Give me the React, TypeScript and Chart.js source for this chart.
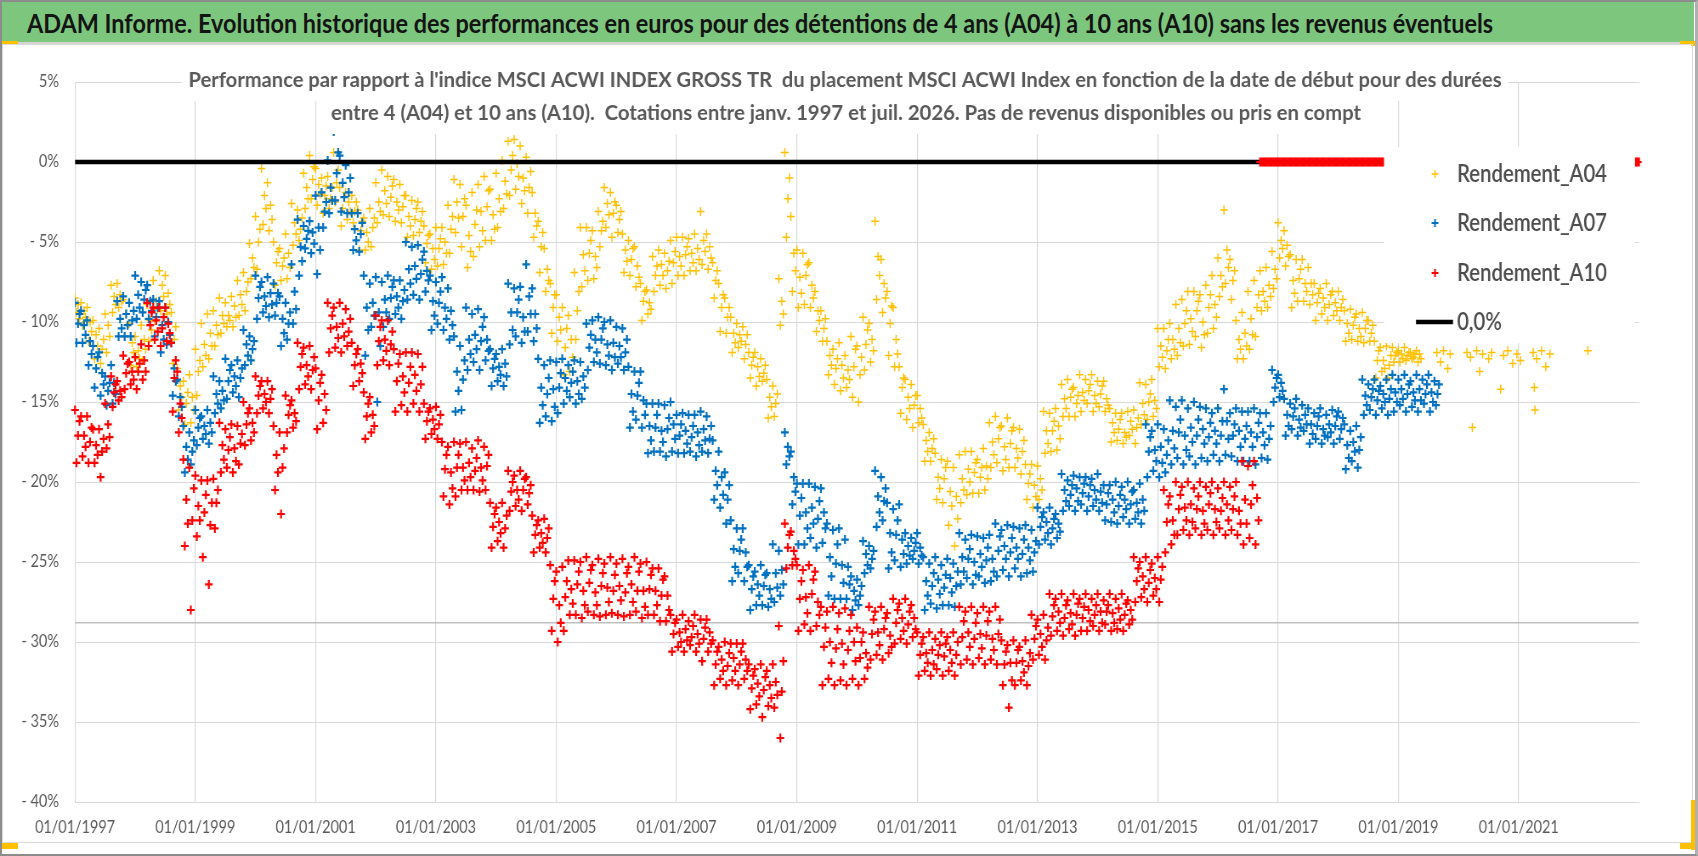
import { useEffect, useRef } from "react";
import { Chart, registerables } from "chart.js";

Chart.register(...registerables);

// ---- data (percent vs index) ----
// every row = four readings of the band inside one STEP-long slice, rows start 01/01/1997
const START_YEAR = 1997;
const STEP = 0.1;
const X_SPAN = 26; // years shown on the axis

const A04_ROWS: number[][] = [
  // 1997
  [-8.5,-9.4,-8.9,-9.8],[-8.8,-10.2,-9.3,-9.7],[-9.1,-11.2,-10.0,-10.6],[-9.9,-12.3,-10.8,-11.5],[-10.4,-12.6,-11.7,-11.1],
  [-9.5,-11.9,-10.2,-10.9],[-7.7,-9.4,-8.4,-8.9],[-7.6,-9.1,-8.3,-8.7],[-8.6,-10.9,-9.5,-10.2],[-10.1,-12.7,-11.3,-11.9],
  // 1998
  [-10.9,-12.8,-11.8,-12.3],[-10.2,-12.4,-11.1,-11.7],[-8.9,-11.2,-9.9,-10.5],[-7.4,-9.9,-8.7,-9.2],[-6.8,-9.3,-7.7,-8.4],
  [-7.1,-9.5,-8.2,-8.9],[-9.4,-12.6,-11.1,-10.3],[-12.9,-15.5,-14.0,-14.7],[-13.7,-16.4,-15.1,-14.4],[-13.3,-16.3,-14.7,-15.5],
  // 1999
  [-11.7,-14.6,-13.1,-12.4],[-10.1,-12.8,-11.4,-12.1],[-9.5,-12.3,-10.7,-11.5],[-9.3,-11.5,-10.2,-10.8],[-8.5,-10.7,-9.6,-10.1],
  [-8.8,-10.3,-9.6,-9.9],[-8.4,-10.3,-9.0,-9.7],[-7.4,-9.6,-8.3,-8.9],[-6.9,-9.3,-8.1,-7.5],[-5.1,-7.3,-6.0,-6.6],
  // 2000
  [-3.4,-6.7,-5.0,-4.2],[-0.4,-3.9,-2.1,-2.9],[-1.3,-4.3,-2.7,-3.6],[-5.0,-7.7,-6.3,-5.6],[-5.4,-7.4,-6.5,-6.0],
  [-4.5,-7.3,-5.7,-6.6],[-2.6,-5.2,-3.8,-4.5],[-3.0,-4.9,-4.2,-3.5],[-0.7,-2.9,-1.6,-2.3],[0.4,-2.3,-1.1,-0.3],
  // 2001
  [-0.4,-2.7,-1.4,-2.0],[-1.0,-3.2,-2.1,-1.5],[-0.9,-2.9,-2.3,-1.6],[0.6,-2.5,-1.3,-0.5],[-1.6,-4.0,-2.9,-2.2],
  [-1.9,-3.6,-2.5,-3.1],[-2.1,-3.8,-3.1,-2.5],[-3.0,-5.5,-4.3,-3.7],[-3.5,-5.5,-4.4,-5.0],[-2.9,-5.3,-4.1,-3.5],
  // 2002
  [-1.3,-3.8,-2.5,-3.1],[-0.5,-3.3,-1.8,-2.6],[-0.9,-3.4,-2.2,-1.5],[-1.1,-3.7,-2.5,-3.0],[-1.4,-3.8,-2.8,-2.1],
  [-2.1,-4.7,-3.4,-4.0],[-2.4,-4.6,-3.6,-2.9],[-2.5,-4.4,-3.7,-3.1],[-4.0,-6.3,-5.1,-4.6],[-4.5,-6.7,-5.4,-6.1],
  // 2003
  [-4.1,-6.5,-5.4,-4.8],[-4.1,-6.4,-5.0,-5.7],[-2.7,-5.7,-4.2,-3.4],[-1.1,-4.4,-2.5,-3.5],[-1.4,-5.3,-3.4,-2.3],
  [-2.7,-6.6,-4.6,-5.6],[-1.9,-5.9,-3.9,-3.0],[-1.4,-5.3,-3.1,-4.3],[-0.9,-4.9,-2.8,-1.8],[-1.7,-4.9,-3.3,-4.2],
  // 2004
  [-0.7,-4.1,-2.3,-3.1],[0.1,-2.9,-1.2,-2.0],[1.3,-2.1,-0.5,0.4],[1.4,-1.7,-0.1,-0.9],[1.0,-2.6,-1.0,-1.8],
  [0.3,-3.2,-1.6,-0.6],[-1.9,-4.7,-3.2,-4.0],[-3.7,-6.9,-5.3,-4.4],[-5.4,-8.1,-6.7,-7.4],[-7.6,-10.7,-9.1,-8.3],
  // 2005
  [-8.3,-11.2,-9.7,-10.5],[-9.1,-13.3,-11.6,-10.4],[-9.6,-13.1,-11.1,-12.2],[-6.9,-11.1,-9.3,-8.1],[-4.1,-7.8,-5.8,-6.8],
  [-4.1,-7.4,-5.7,-4.9],[-4.3,-7.3,-5.9,-6.6],[-3.1,-5.3,-4.3,-3.7],[-1.6,-4.1,-2.6,-3.3],[-1.9,-4.7,-3.2,-2.5],
  // 2006
  [-2.7,-4.4,-3.6,-3.1],[-4.5,-6.9,-5.5,-6.2],[-4.9,-7.1,-6.1,-5.4],[-5.3,-7.8,-6.5,-7.2],[-7.6,-9.9,-8.7,-8.1],
  [-8.0,-9.5,-8.8,-9.2],[-5.9,-8.1,-7.1,-6.5],[-5.5,-7.7,-6.4,-7.1],[-5.7,-7.9,-6.8,-6.2],[-4.9,-7.6,-6.3,-5.6],
  // 2007
  [-4.7,-7.1,-5.9,-6.5],[-4.7,-7.1,-5.8,-5.3],[-4.8,-6.8,-5.7,-6.3],[-4.5,-6.8,-5.4,-6.1],[-3.1,-6.4,-4.9,-5.6],
  [-4.5,-6.7,-5.3,-6.0],[-6.3,-8.5,-7.4,-6.8],[-7.6,-10.6,-9.1,-8.3],[-8.5,-10.7,-9.7,-9.1],[-9.7,-11.9,-10.7,-11.3],
  // 2008
  [-10.1,-11.6,-10.8,-11.2],[-10.3,-12.3,-11.4,-10.8],[-11.9,-13.5,-12.7,-12.2],[-11.9,-14.0,-12.8,-13.4],[-12.3,-13.7,-13.2,-12.7],
  [-13.6,-16.0,-14.7,-15.3],[-14.0,-15.9,-15.1,-14.5],[-7.3,-10.2,-8.7,-9.5],[0.6,-4.7,-2.3,-1.0],[-3.4,-8.1,-5.7,-6.8],
  // 2009
  [-5.5,-9.1,-7.2,-8.2],[-5.7,-8.9,-7.1,-6.4],[-6.3,-9.1,-7.7,-8.5],[-8.1,-10.6,-9.3,-9.9],[-9.3,-11.2,-10.4,-9.8],
  [-11.2,-13.3,-12.1,-12.7],[-11.7,-13.9,-12.9,-12.3],[-11.3,-14.3,-12.7,-13.5],[-12.1,-14.1,-13.0,-13.6],[-10.9,-14.7,-12.8,-11.7],
  // 2010
  [-11.5,-15.0,-13.3,-12.2],[-9.7,-13.0,-11.4,-10.5],[-10.1,-12.5,-11.1,-11.8],[-3.7,-8.6,-5.9,-7.1],[-6.1,-9.4,-7.6,-8.5],
  [-8.1,-12.1,-10.1,-9.0],[-9.1,-12.8,-11.1,-12.0],[-12.8,-15.7,-14.1,-13.5],[-13.6,-16.1,-14.7,-15.4],[-13.9,-16.6,-15.2,-14.6],
  // 2011
  [-14.6,-16.3,-15.4,-16.0],[-16.4,-18.7,-17.4,-18.1],[-16.9,-18.7,-17.9,-17.3],[-18.2,-21.1,-19.7,-20.4],[-18.6,-21.3,-19.8,-19.1],
  [-18.7,-22.7,-20.6,-21.5],[-19.1,-24.0,-20.9,-22.3],[-18.3,-21.3,-19.8,-20.5],[-18.1,-20.8,-19.2,-20.0],[-18.1,-20.7,-19.4,-18.8],
  // 2012
  [-18.6,-20.7,-19.7,-19.1],[-17.9,-20.5,-19.0,-19.8],[-16.3,-19.1,-17.5,-18.3],[-15.9,-18.8,-17.3,-16.6],[-16.5,-19.3,-17.8,-18.6],
  [-16.0,-19.1,-17.6,-16.8],[-16.6,-19.1,-17.9,-18.5],[-16.7,-19.5,-18.1,-17.4],[-18.9,-21.1,-20.1,-19.5],[-18.9,-21.6,-20.2,-20.9],
  // 2013
  [-19.0,-21.1,-19.8,-20.5],[-15.6,-18.2,-16.8,-17.6],[-15.7,-18.1,-16.8,-16.2],[-15.4,-18.0,-16.5,-17.3],[-13.9,-15.9,-14.8,-15.4],
  [-13.6,-15.9,-14.7,-14.2],[-14.1,-15.9,-15.1,-14.6],[-13.3,-15.6,-14.4,-14.9],[-13.6,-15.1,-14.3,-13.9],[-13.3,-15.6,-14.6,-15.1],
  // 2014
  [-13.7,-15.3,-14.5,-14.0],[-13.7,-15.6,-14.8,-15.2],[-15.4,-17.5,-16.3,-16.9],[-15.7,-17.4,-16.7,-16.1],[-15.7,-17.6,-16.9,-17.2],
  [-15.6,-17.1,-16.2,-16.7],[-15.5,-17.6,-16.6,-16.0],[-13.8,-16.4,-15.1,-15.8],[-13.9,-16.1,-15.0,-14.5],[-13.6,-15.9,-14.9,-15.4],
  // 2015
  [-10.4,-12.8,-11.5,-12.2],[-10.4,-12.9,-11.8,-11.1],[-10.1,-12.3,-11.1,-11.7],[-8.9,-12.1,-10.4,-11.3],[-8.6,-11.5,-10.1,-9.3],
  [-8.1,-11.4,-9.8,-10.6],[-8.1,-10.9,-9.3,-8.7],[-8.3,-11.6,-10.0,-10.8],[-7.7,-10.7,-9.1,-8.3],[-7.1,-10.4,-8.9,-9.7],
  // 2016
  [-6.0,-8.4,-7.1,-7.8],[-3.0,-7.6,-5.5,-6.6],[-6.1,-8.6,-7.4,-6.8],[-9.9,-12.3,-11.1,-11.7],[-9.4,-12.3,-10.7,-11.5],
  [-8.1,-11.7,-9.8,-10.8],[-7.4,-10.9,-9.1,-8.3],[-6.8,-9.3,-8.1,-8.7],[-6.6,-9.1,-7.7,-8.4],[-5.6,-7.9,-6.7,-7.3],
  // 2017
  [-3.8,-6.0,-4.9,-5.4],[-4.3,-6.5,-5.2,-5.9],[-5.8,-9.1,-7.4,-8.2],[-6.1,-8.7,-7.3,-6.7],[-6.1,-8.7,-7.6,-8.1],
  [-6.6,-8.9,-7.6,-8.3],[-7.6,-9.9,-8.8,-8.2],[-7.9,-9.5,-8.5,-9.1],[-7.6,-9.9,-8.9,-8.3],[-8.1,-9.6,-8.8,-9.3],
  // 2018
  [-8.1,-9.9,-9.1,-8.6],[-9.3,-11.2,-10.1,-10.7],[-9.2,-11.1,-10.2,-9.7],[-9.5,-11.2,-10.4,-10.9],[-9.4,-11.3,-10.4,-9.9],
  [-9.9,-11.2,-10.7,-10.2],[-11.2,-13.5,-12.4,-11.8],[-11.6,-13.1,-12.4,-12.9],[-11.5,-13.5,-12.7,-12.1],[-11.6,-12.5,-12.1,-11.9],
  // 2019
  [-11.8,-12.5,-12.0,-12.3],[-11.6,-12.4,-12.1,-11.9],[-11.9,-12.3,-12.2,-12.0],[-11.8,-12.5,-12.0,-12.3],
];

// scattered A04 points after the dense part (year, value)
const A04_TAIL_YEARS = [2019.64, 2019.7, 2019.75, 2019.82, 2019.86, 2020.14, 2020.2, 2020.23, 2020.3, 2020.35, 2020.4, 2020.5, 2020.55, 2020.7, 2020.75, 2020.82, 2020.9, 2020.97, 2021.03, 2021.24, 2021.26, 2021.27, 2021.3, 2021.38, 2021.45, 2021.52, 2022.15];
const A04_TAIL_VALUES = [-11.9, -12.5, -11.8, -12.9, -12.0, -11.9, -12.2, -16.6, -11.8, -13.1, -12.0, -12.3, -11.9, -14.2, -12.1, -11.8, -12.6, -12.0, -12.4, -11.9, -14.1, -15.5, -12.3, -11.8, -12.8, -12.0, -11.8];

const A07_ROWS: number[][] = [
  // 1997
  [-8.8,-11.3,-10.1,-9.5],[-9.3,-11.3,-10.2,-10.8],[-9.9,-12.7,-11.2,-12.0],[-11.5,-14.1,-12.9,-12.2],[-11.9,-14.6,-13.2,-13.9],
  [-13.4,-15.2,-14.3,-13.8],[-12.7,-15.1,-13.8,-14.5],[-8.7,-10.9,-9.8,-10.4],[-8.4,-10.9,-9.5,-10.2],[-8.8,-10.9,-9.9,-9.3],
  // 1998
  [-7.1,-9.8,-8.3,-9.1],[-7.5,-9.4,-8.6,-8.0],[-7.7,-9.8,-8.7,-9.3],[-8.6,-10.9,-9.7,-9.1],[-8.7,-11.9,-10.2,-11.1],
  [-9.1,-11.4,-10.0,-10.8],[-11.3,-14.6,-12.9,-13.7],[-13.6,-15.9,-14.7,-15.3],[-16.5,-19.4,-17.8,-18.6],[-16.9,-18.9,-18.1,-17.4],
  // 1999
  [-15.5,-17.7,-16.6,-16.0],[-15.9,-17.3,-16.5,-17.0],[-15.5,-17.6,-16.3,-16.9],[-13.4,-15.7,-14.5,-15.1],[-13.7,-15.4,-14.3,-14.9],
  [-12.3,-14.8,-13.7,-13.0],[-12.7,-14.4,-13.4,-14.0],[-12.4,-14.7,-13.5,-12.9],[-10.5,-12.7,-11.4,-12.1],[-10.9,-12.4,-11.7,-11.2],
  // 2000
  [-7.1,-9.8,-8.5,-7.8],[-7.5,-9.4,-8.4,-9.0],[-7.2,-9.7,-8.2,-8.9],[-7.6,-9.6,-8.8,-8.2],[-8.4,-11.5,-9.8,-10.7],
  [-8.8,-11.1,-10.1,-9.4],[-6.4,-10.1,-8.1,-9.2],[-3.6,-7.1,-5.3,-6.2],[-4.0,-5.4,-4.8,-4.3],[-3.7,-5.7,-4.4,-5.1],
  // 2001
  [-2.1,-7.0,-4.1,-5.5],[-1.9,-4.1,-3.1,-2.5],[0.1,-3.2,-1.6,-2.4],[1.9,-2.4,-0.7,0.6],[0.4,-3.1,-1.3,-2.2],
  [-0.2,-3.2,-1.9,-1.0],[-3.2,-5.5,-4.2,-4.9],[-3.2,-5.6,-4.5,-3.8],[-7.1,-12.1,-9.1,-10.5],[-7.6,-10.3,-8.8,-9.6],
  // 2002
  [-7.2,-15.0,-9.4,-11.5],[-7.5,-10.3,-8.6,-9.4],[-7.1,-9.8,-8.5,-7.8],[-7.4,-9.5,-8.4,-9.1],[-7.4,-9.8,-8.7,-8.0],
  [-5.0,-8.6,-6.7,-7.6],[-5.3,-8.3,-6.5,-7.3],[-5.2,-8.6,-7.0,-6.1],[-5.6,-8.1,-6.8,-7.4],[-7.1,-10.5,-8.7,-9.6],
  // 2003
  [-7.5,-10.1,-8.8,-8.1],[-7.2,-10.5,-9.1,-9.8],[-7.9,-11.1,-9.3,-10.2],[-10.9,-15.6,-13.1,-14.3],[-11.5,-15.5,-13.6,-12.4],
  [-9.1,-13.0,-11.1,-12.0],[-9.5,-12.5,-10.8,-11.7],[-9.2,-13.0,-11.2,-10.3],[-9.7,-12.4,-11.1,-11.8],[-11.7,-14.0,-12.9,-12.3],
  // 2004
  [-12.0,-13.7,-12.8,-13.3],[-11.7,-14.0,-12.6,-13.4],[-7.6,-11.4,-9.4,-10.5],[-7.9,-10.9,-9.4,-8.6],[-7.8,-11.3,-9.7,-10.6],
  [-6.4,-10.6,-8.4,-9.5],[-7.9,-11.2,-9.5,-10.4],[-12.3,-16.3,-14.1,-15.2],[-12.7,-15.9,-14.5,-13.5],[-12.4,-16.2,-14.2,-15.3],
  // 2005
  [-12.5,-15.7,-14.1,-13.2],[-12.3,-15.1,-13.5,-14.3],[-12.7,-14.7,-13.8,-13.1],[-12.4,-15.1,-13.7,-14.5],[-12.5,-14.8,-13.4,-14.1],
  [-10.1,-13.0,-11.6,-10.8],[-9.9,-12.5,-11.1,-11.9],[-9.7,-12.6,-11.1,-10.4],[-10.0,-12.7,-11.4,-12.1],[-9.9,-13.0,-11.3,-12.2],
  // 2006
  [-10.3,-12.6,-11.5,-12.2],[-10.4,-13.0,-11.9,-11.1],[-12.8,-16.6,-14.5,-15.6],[-13.1,-16.1,-14.6,-13.8],[-13.1,-16.6,-14.9,-15.8],
  [-15.1,-18.2,-16.5,-17.4],[-15.1,-18.1,-16.6,-15.8],[-15.1,-18.1,-16.8,-17.5],[-15.2,-18.4,-16.7,-16.0],[-15.0,-18.1,-16.4,-17.3],
  // 2007
  [-15.8,-18.2,-17.1,-16.4],[-15.7,-18.2,-16.8,-17.6],[-15.8,-18.1,-17.2,-16.5],[-15.8,-18.4,-16.9,-17.7],[-15.6,-18.1,-16.7,-17.4],
  [-15.9,-18.2,-17.3,-16.5],[-17.4,-21.1,-19.3,-20.2],[-18.1,-21.6,-19.7,-20.8],[-19.4,-22.6,-21.1,-20.2],[-22.4,-26.2,-24.2,-25.3],
  // 2008
  [-22.9,-25.7,-24.3,-23.6],[-22.9,-26.2,-24.4,-25.3],[-25.2,-28.0,-26.7,-25.9],[-25.6,-27.7,-26.4,-27.1],[-25.2,-27.7,-26.5,-25.8],
  [-25.7,-27.8,-26.7,-27.3],[-23.9,-27.5,-25.7,-26.6],[-24.3,-27.1,-25.5,-26.4],[-16.9,-18.9,-17.8,-18.4],[-18.1,-21.4,-19.7,-20.6],
  // 2009
  [-20.1,-23.9,-22.1,-21.0],[-20.1,-23.9,-21.9,-22.9],[-20.1,-23.5,-21.6,-22.6],[-20.3,-24.1,-22.3,-21.2],[-20.4,-23.8,-21.9,-22.9],
  [-22.6,-27.1,-24.7,-25.9],[-23.0,-27.3,-25.1,-23.9],[-22.9,-27.3,-25.2,-26.3],[-23.6,-27.3,-25.3,-26.4],[-25.9,-28.0,-26.8,-27.4],
  // 2010
  [-26.1,-27.7,-27.1,-26.5],[-23.7,-25.7,-24.5,-25.2],[-24.0,-25.4,-24.8,-24.3],[-19.3,-22.8,-20.9,-21.9],[-19.7,-22.4,-21.2,-20.4],
  [-21.3,-25.4,-23.2,-24.4],[-21.7,-24.9,-23.3,-22.4],[-21.4,-25.3,-23.6,-24.5],[-23.2,-25.1,-24.0,-24.6],[-23.5,-24.8,-24.3,-23.8],
  // 2011
  [-23.2,-25.1,-24.1,-24.6],[-24.7,-28.0,-26.2,-27.1],[-25.1,-27.6,-26.5,-25.7],[-24.7,-27.9,-26.1,-27.0],[-25.2,-27.7,-26.6,-25.8],
  [-24.8,-27.7,-26.0,-26.9],[-25.1,-27.8,-26.5,-25.6],[-23.2,-26.4,-24.7,-25.6],[-23.6,-26.0,-24.8,-24.2],[-23.3,-26.4,-25.0,-25.8],
  // 2012
  [-23.4,-25.9,-24.5,-25.3],[-23.5,-26.3,-24.9,-24.1],[-23.3,-26.2,-24.8,-25.6],[-22.6,-25.9,-24.3,-23.4],[-23.0,-25.5,-24.0,-24.8],
  [-22.7,-25.9,-24.4,-23.5],[-22.8,-25.4,-24.1,-24.8],[-22.9,-25.9,-24.5,-23.6],[-22.7,-25.7,-24.1,-24.9],[-23.0,-25.6,-24.4,-23.7],
  // 2013
  [-21.6,-23.9,-22.8,-22.2],[-21.9,-23.6,-22.5,-23.2],[-21.6,-23.9,-22.9,-22.3],[-22.0,-23.5,-22.6,-23.1],[-19.5,-21.8,-20.5,-21.2],
  [-19.9,-21.5,-20.8,-20.2],[-19.6,-21.8,-20.4,-21.2],[-19.7,-21.4,-20.7,-20.1],[-19.7,-21.8,-20.9,-20.2],[-19.8,-21.5,-20.5,-21.1],
  // 2014
  [-19.5,-21.8,-20.6,-21.3],[-20.2,-22.4,-21.4,-20.7],[-20.2,-22.5,-21.1,-21.9],[-20.0,-22.6,-21.5,-20.8],[-20.3,-22.2,-21.1,-21.7],
  [-20.0,-22.6,-21.4,-20.6],[-20.5,-22.3,-21.3,-21.9],[-20.1,-22.6,-21.1,-21.8],[-16.4,-19.7,-18.1,-17.2],[-16.8,-19.3,-18.0,-18.7],
  // 2015
  [-16.4,-19.7,-17.8,-18.8],[-16.7,-19.4,-18.3,-17.4],[-14.9,-18.9,-16.8,-17.9],[-15.3,-18.5,-16.9,-16.1],[-14.9,-18.9,-17.1,-18.0],
  [-15.4,-18.4,-16.6,-17.5],[-15.0,-18.9,-17.1,-16.1],[-15.3,-18.5,-16.7,-17.6],[-15.4,-18.7,-17.2,-16.3],[-15.7,-18.3,-16.8,-17.6],
  // 2016
  [-15.4,-18.7,-17.1,-16.2],[-14.2,-18.3,-16.2,-17.3],[-15.7,-18.4,-17.1,-16.4],[-15.4,-18.7,-16.8,-17.8],[-15.6,-18.7,-17.3,-16.5],
  [-15.6,-18.7,-16.9,-17.8],[-15.4,-18.9,-17.2,-16.3],[-15.7,-18.5,-16.9,-17.7],[-15.7,-18.6,-17.3,-16.5],[-13.0,-15.0,-14.1,-13.5],
  // 2017
  [-13.3,-14.7,-13.8,-14.3],[-14.8,-17.1,-15.8,-16.5],[-15.1,-16.7,-15.9,-15.4],[-14.8,-17.1,-16.1,-16.6],[-15.2,-16.8,-15.8,-16.4],
  [-15.4,-17.6,-16.4,-17.0],[-15.7,-17.3,-16.5,-15.9],[-15.4,-17.6,-16.7,-17.1],[-15.8,-17.2,-16.4,-16.9],[-15.5,-17.6,-16.5,-15.9],
  // 2018
  [-15.6,-17.3,-16.7,-16.0],[-16.4,-19.2,-17.7,-18.5],[-16.8,-18.7,-17.5,-18.1],[-16.5,-19.1,-18.0,-17.2],[-13.6,-15.8,-14.6,-15.2],
  [-13.9,-15.5,-14.7,-14.2],[-13.6,-15.8,-14.9,-14.3],[-14.0,-15.4,-14.5,-15.0],[-13.6,-15.8,-14.8,-14.2],[-13.3,-15.6,-14.4,-15.0],
  // 2019
  [-13.6,-15.2,-14.2,-14.8],[-13.3,-15.6,-14.5,-13.9],[-13.7,-15.3,-14.4,-14.9],[-13.3,-15.6,-14.2,-14.9],[-13.6,-15.1,-14.5,-13.9],
  [-13.3,-15.6,-14.4,-15.0],[-13.7,-15.2,-14.5,-13.9],
];

const A10_ROWS: number[][] = [
  // 1997
  [-15.5,-18.8,-17.1,-16.2],[-15.9,-18.4,-17.1,-17.8],[-15.9,-18.8,-17.5,-16.6],[-16.7,-18.8,-17.7,-18.3],[-16.7,-19.7,-18.1,-17.3],
  [-15.1,-17.9,-16.4,-17.2],[-13.4,-15.3,-14.4,-13.9],[-13.7,-14.9,-14.3,-14.7],[-12.1,-14.2,-13.2,-12.6],[-12.5,-13.9,-13.1,-13.6],
  // 1998
  [-12.2,-14.2,-13.1,-12.6],[-11.4,-13.6,-12.4,-13.1],[-8.8,-11.5,-10.2,-9.4],[-9.1,-11.1,-9.9,-10.6],[-9.1,-11.5,-10.4,-9.7],
  [-9.1,-11.2,-10.1,-10.7],[-11.3,-15.6,-13.5,-12.4],[-13.1,-16.9,-15.1,-16.0],[-18.6,-24.0,-21.1,-22.6],[-19.1,-28.0,-22.4,-20.4],
  // 1999
  [-19.6,-23.4,-21.5,-22.4],[-19.9,-24.7,-21.9,-20.8],[-19.9,-26.4,-22.7,-21.3],[-19.8,-22.9,-21.3,-20.5],[-16.3,-19.4,-17.7,-18.6],
  [-16.7,-19.1,-18.0,-17.2],[-16.4,-19.4,-17.9,-18.7],[-16.5,-18.9,-17.6,-17.0],[-15.0,-17.7,-16.4,-15.7],[-15.4,-17.4,-16.3,-16.9],
  // 2000
  [-13.4,-15.7,-14.6,-14.0],[-13.7,-15.4,-14.5,-15.0],[-13.7,-15.7,-14.8,-14.2],[-16.5,-20.5,-18.3,-19.4],[-16.9,-22.0,-19.1,-17.9],
  [-14.6,-16.9,-15.8,-15.2],[-14.9,-16.6,-15.7,-16.2],[-11.3,-14.2,-12.8,-12.0],[-11.6,-13.9,-12.7,-13.4],[-11.5,-14.2,-13.0,-12.2],
  // 2001
  [-12.9,-16.7,-14.9,-13.8],[-13.3,-16.3,-14.5,-15.5],[-8.8,-11.9,-10.4,-9.6],[-9.1,-11.6,-10.3,-11.0],[-8.8,-11.9,-10.1,-10.9],
  [-9.2,-11.5,-10.6,-9.8],[-11.3,-14.0,-12.7,-12.0],[-11.7,-13.7,-12.6,-13.2],[-14.4,-17.3,-15.9,-15.1],[-14.7,-16.9,-15.8,-16.5],
  // 2002
  [-9.6,-12.7,-11.2,-10.3],[-9.9,-12.4,-11.1,-11.8],[-9.9,-12.7,-11.4,-10.6],[-11.7,-15.6,-13.7,-12.6],[-12.0,-15.2,-13.4,-14.4],
  [-11.9,-15.6,-13.8,-12.8],[-11.9,-15.1,-13.3,-14.3],[-12.0,-15.6,-13.9,-12.8],[-15.1,-17.3,-16.2,-15.6],[-15.4,-17.0,-16.1,-16.7],
  // 2003
  [-15.3,-17.3,-16.4,-15.8],[-17.5,-20.9,-19.2,-18.3],[-17.8,-21.4,-19.4,-20.4],[-17.5,-20.9,-19.1,-18.3],[-17.6,-20.5,-19.1,-19.9],
  [-17.5,-20.5,-18.8,-19.7],[-17.9,-20.5,-19.3,-18.5],[-17.4,-20.6,-19.1,-19.9],[-17.8,-20.5,-19.0,-18.3],[-21.3,-24.1,-22.8,-22.0],
  // 2004
  [-21.6,-23.7,-22.5,-23.2],[-21.3,-24.1,-22.9,-22.1],[-19.3,-21.8,-20.6,-20.0],[-19.6,-21.5,-20.5,-21.1],[-19.3,-21.8,-20.5,-19.8],
  [-19.7,-21.4,-20.7,-20.2],[-22.1,-24.4,-23.3,-22.7],[-22.4,-24.1,-23.2,-23.8],[-22.3,-24.4,-23.5,-22.9],[-25.2,-29.3,-27.3,-26.2],
  // 2005
  [-25.6,-30.0,-27.7,-28.8],[-25.3,-29.3,-27.2,-26.2],[-24.9,-28.3,-26.7,-27.6],[-24.9,-28.3,-26.4,-25.6],[-25.0,-28.5,-26.8,-27.7],
  [-24.7,-28.1,-26.3,-25.5],[-25.2,-28.3,-26.9,-27.7],[-24.8,-28.4,-26.5,-25.7],[-25.1,-28.3,-26.6,-27.5],[-24.7,-28.2,-26.8,-25.8],
  // 2006
  [-25.1,-28.3,-26.5,-27.4],[-24.8,-28.4,-26.9,-25.7],[-25.3,-28.3,-26.4,-27.5],[-24.7,-28.1,-26.8,-25.6],[-25.1,-28.5,-26.8,-27.8],
  [-25.0,-28.3,-26.7,-25.8],[-25.4,-28.3,-26.8,-27.7],[-25.4,-28.7,-27.1,-26.1],[-25.9,-28.7,-27.1,-28.0],[-28.3,-30.6,-29.5,-28.8],
  // 2007
  [-28.6,-30.3,-29.4,-30.0],[-28.3,-30.6,-29.2,-29.9],[-28.7,-30.2,-29.7,-29.0],[-28.3,-30.6,-29.5,-30.1],[-28.6,-31.2,-29.8,-29.1],
  [-28.6,-30.6,-29.4,-30.1],[-29.9,-32.7,-31.4,-30.6],[-30.3,-32.3,-31.1,-31.8],[-30.0,-32.7,-31.5,-30.7],[-30.1,-32.4,-31.0,-31.8],
  // 2008
  [-30.1,-32.7,-31.4,-30.6],[-30.1,-32.3,-31.1,-31.8],[-31.4,-34.2,-32.9,-32.1],[-31.7,-33.9,-32.6,-33.4],[-31.4,-34.7,-33.0,-32.2],
  [-31.8,-34.0,-32.7,-33.5],[-31.4,-34.1,-32.5,-33.3],[-29.0,-36.0,-33.1,-31.2],[-22.6,-25.4,-24.1,-23.3],[-23.1,-25.2,-24.3,-24.8],
  // 2009
  [-25.2,-29.3,-27.3,-26.2],[-25.5,-28.9,-27.2,-28.2],[-25.2,-29.3,-27.0,-26.1],[-25.6,-29.0,-27.5,-28.3],[-27.8,-32.7,-30.3,-29.1],
  [-28.1,-32.3,-30.0,-31.3],[-27.8,-32.7,-30.4,-29.2],[-28.2,-32.4,-30.1,-31.4],[-27.9,-32.7,-30.5,-29.3],[-28.3,-32.3,-30.0,-31.2],
  // 2010
  [-29.1,-32.7,-31.0,-30.0],[-29.4,-32.3,-30.7,-31.6],[-27.8,-31.1,-29.5,-28.6],[-28.1,-30.8,-29.4,-30.2],[-27.8,-31.1,-29.2,-28.5],
  [-28.2,-30.7,-29.6,-30.3],[-27.3,-30.1,-28.8,-28.0],[-27.6,-29.8,-28.5,-29.3],[-27.3,-30.1,-28.9,-28.1],[-27.7,-29.7,-28.5,-29.2],
  // 2011
  [-29.4,-32.1,-30.8,-30.1],[-29.7,-31.8,-30.7,-31.3],[-29.4,-32.1,-30.5,-31.4],[-29.8,-31.7,-30.8,-30.2],[-29.4,-32.1,-30.9,-30.1],
  [-29.7,-31.8,-30.5,-31.3],[-29.4,-32.1,-30.8,-30.0],[-27.8,-31.4,-29.7,-28.7],[-28.1,-31.1,-29.4,-30.3],[-27.8,-31.4,-29.8,-28.8],
  // 2012
  [-28.2,-31.0,-29.5,-30.4],[-27.8,-31.4,-29.6,-28.7],[-28.1,-31.1,-29.8,-30.5],[-27.8,-31.4,-29.5,-28.6],[-29.9,-32.7,-31.4,-30.6],
  [-30.2,-34.1,-31.3,-32.4],[-29.9,-32.7,-31.3,-30.5],[-30.3,-32.4,-31.2,-31.9],[-29.9,-32.7,-31.5,-30.7],[-28.3,-31.1,-29.8,-29.0],
  // 2013
  [-28.6,-30.8,-29.5,-30.3],[-28.3,-31.1,-29.9,-29.1],[-27.0,-29.6,-28.4,-27.7],[-27.3,-29.3,-28.1,-28.8],[-27.0,-29.6,-28.5,-27.7],
  [-27.4,-29.2,-28.2,-28.9],[-27.0,-29.6,-28.3,-27.6],[-27.3,-29.3,-28.5,-27.8],[-27.0,-29.3,-28.0,-28.7],[-27.3,-29.0,-28.3,-27.7],
  // 2014
  [-27.0,-29.3,-28.1,-28.8],[-27.4,-28.9,-28.1,-27.7],[-27.0,-29.3,-28.2,-28.8],[-27.3,-29.2,-27.9,-28.6],[-27.0,-29.3,-28.3,-27.6],
  [-27.4,-28.9,-28.0,-28.6],[-24.7,-27.5,-26.2,-25.4],[-25.0,-27.2,-25.9,-26.7],[-24.7,-27.5,-26.3,-25.5],[-25.1,-27.1,-26.0,-26.7],
  // 2015
  [-24.7,-27.5,-26.1,-25.3],[-20.5,-24.4,-22.5,-21.4],[-20.9,-23.9,-22.4,-23.3],[-20.0,-23.3,-21.7,-20.8],[-20.3,-23.0,-21.6,-22.4],
  [-20.0,-23.3,-21.4,-22.5],[-20.4,-22.9,-21.7,-20.9],[-20.0,-23.3,-21.8,-22.6],[-20.3,-23.0,-21.4,-20.7],[-20.0,-23.3,-21.7,-22.5],
  // 2016 (no 10-year figure after mid-2016: plotted as 0)
  [-20.4,-22.9,-21.8,-21.0],[-20.0,-23.3,-21.4,-22.4],[-20.3,-23.0,-21.7,-20.9],[-20.0,-23.3,-21.8,-22.6],[-18.7,-23.9,-21.1,-22.6],
  [-19.0,-23.5,-21.4,-20.2],[-18.7,-23.9,-21.0,-22.4],[0,0,0,0],[0,0,0,0],[0,0,0,0],
  // 2017
  [0,0,0,0],[0,0,0,0],[0,0,0,0],[0,0,0,0],[0,0,0,0],[0,0,0,0],[0,0,0,0],[0,0,0,0],[0,0,0,0],[0,0,0,0],
  // 2018
  [0,0,0,0],[0,0,0,0],[0,0,0,0],[0,0,0,0],[0,0,0,0],[0,0,0,0],[0,0,0,0],[0,0,0,0],[0,0,0,0],[0,0,0,0],
  // 2019
  [0,0,0,0],[0,0,0,0],[0,0,0,0],[0,0,0,0],[0,0,0,0],[0,0,0,0],[0,0,0,0],[0,0,0,0],[0,0,0,0],[0,0,0,0],
  // 2020
  [0,0,0,0],[0,0,0,0],[0,0,0,0],[0,0,0,0],[0,0,0,0],[0,0,0,0],[0,0,0,0],[0,0,0,0],[0,0,0,0],[0,0,0,0],
  // 2021
  [0,0,0,0],[0,0,0,0],[0,0,0,0],[0,0,0,0],[0,0,0,0],[0,0,0,0],[0,0,0,0],[0,0,0,0],[0,0,0,0],[0,0,0,0],
  // 2022
  [0,0,0,0],[0,0,0,0],[0,0,0,0],[0,0,0,0],[0,0,0,0],[0,0,0,0],[0,0,0,0],[0,0,0,0],[0,0,0,0],[0,0,0,0],
  // 2023
  [0],
];

const ZERO_LEVEL = 0; // "0,0%" reference line
const GREY_LEVEL = -28.8; // thin grey horizontal line

const Y_MIN = -40;
const Y_MAX = 5;
const Y_STEP = 5;
const X_STEP = 2;

const HEADER = "ADAM Informe. Evolution historique des performances en euros pour des détentions de 4 ans (A04) à 10 ans (A10) sans les revenus éventuels";
const TITLE_LINES = [
  "Performance par rapport à l'indice MSCI ACWI INDEX GROSS TR  du placement MSCI ACWI Index en fonction de la date de début pour des durées",
  "entre 4 (A04) et 10 ans (A10).  Cotations entre janv. 1997 et juil. 2026. Pas de revenus disponibles ou pris en compt",
];
const LEGEND_LABELS = ["Rendement_A04", "Rendement_A07", "Rendement_A10", "0,0%"];

// ---- layout (page pixels) ----
const PAGE_W = 1698;
const PAGE_H = 856;
const CANVAS_W = 1998; // chart is drawn wider, then squeezed to the page width
const SX = PAGE_W / CANVAS_W;
const lx = (px: number) => px / SX;

const PLOT = { left: 75, right: 1639, top: 82, bottom: 802 };
const TITLE_POS = [
  { cx: 845, base: 87, w: 1313 },
  { cx: 846, base: 120, w: 1030 },
];
const LEGEND_BOX = { left: 1384, right: 1635, top: 147, bottom: 343 };
const LEGEND_Y = [174, 223, 273, 322];
const LEGEND_MARK_X = 1435;
const LEGEND_TEXT_X = 1457;
const LEGEND_TEXT_W = 150;

const COLORS = { a04: "#FFC000", a07: "#0070C0", a10: "#FF0000", zero: "#000000", grey: "#BFBFBF", grid: "#D9D9D9", text: "#595959" };
const FONT = "Lato";

// the readings of one row are spread over its slice of time
const rowsToPoints = (rows: number[][]) =>
  rows.flatMap((vals, i) => vals.map((y, j) => ({ x: (i + j / vals.length) * STEP, y })));

function cross(ctx: CanvasRenderingContext2D, x: number, y: number, r: number, color: string, w: number) {
  ctx.strokeStyle = color;
  ctx.lineWidth = w;
  ctx.beginPath();
  ctx.moveTo(x - r, y);
  ctx.lineTo(x + r, y);
  ctx.moveTo(x, y - r);
  ctx.lineTo(x, y + r);
  ctx.stroke();
}

// title and legend sit on top of the plot area, on white boxes
const overlayPlugin = {
  id: "overlay",
  afterDraw(chart: Chart) {
    const ctx = chart.ctx;
    ctx.save();

    ctx.font = `bold 20px ${FONT}`;
    ctx.textBaseline = "alphabetic";
    ctx.textAlign = "left";
    TITLE_LINES.forEach((t, i) => {
      const p = TITLE_POS[i];
      const w = lx(p.w);
      const left = lx(p.cx) - w / 2;
      ctx.fillStyle = "#ffffff";
      ctx.fillRect(left - 8, p.base - 20, w + 16, 34);
      const m = ctx.measureText(t).width;
      ctx.save();
      ctx.translate(left, p.base);
      ctx.scale(w / m, 1);
      ctx.fillStyle = COLORS.text;
      ctx.fillText(t, 0, 0);
      ctx.restore();
    });

    // legend
    const boxL = lx(LEGEND_BOX.left);
    const boxR = lx(LEGEND_BOX.right);
    ctx.fillStyle = "#ffffff";
    ctx.fillRect(boxL, LEGEND_BOX.top, boxR - boxL, LEGEND_BOX.bottom - LEGEND_BOX.top);

    ctx.font = `600 25px ${FONT}`;
    ctx.textBaseline = "middle";
    const sx = lx(LEGEND_TEXT_W) / ctx.measureText(LEGEND_LABELS[0]).width;
    const marks = [
      [COLORS.a04, 1.4],
      [COLORS.a07, 2],
      [COLORS.a10, 2],
    ] as const;
    LEGEND_LABELS.forEach((label, i) => {
      const y = LEGEND_Y[i];
      if (i < 3) {
        cross(ctx, lx(LEGEND_MARK_X), y, 4, marks[i][0], marks[i][1]);
      } else {
        ctx.strokeStyle = COLORS.zero;
        ctx.lineWidth = 4.5;
        ctx.beginPath();
        ctx.moveTo(lx(1416), y);
        ctx.lineTo(lx(1453), y);
        ctx.stroke();
      }
      ctx.save();
      ctx.translate(lx(LEGEND_TEXT_X), y);
      ctx.scale(sx, 1);
      ctx.fillStyle = "#4D4D4D";
      ctx.fillText(label, 0, 0);
      ctx.restore();
    });

    ctx.restore();
  },
};

export default function App() {
  const canvasRef = useRef<HTMLCanvasElement>(null);

  useEffect(() => {
    if (!canvasRef.current) return;

    const a04 = [
      ...rowsToPoints(A04_ROWS),
      ...A04_TAIL_YEARS.map((yr, i) => ({ x: yr - START_YEAR, y: A04_TAIL_VALUES[i] })),
    ];

    const chart = new Chart(canvasRef.current, {
      type: "scatter",
      data: {
        datasets: [
          {
            label: "Rendement_A10",
            data: rowsToPoints(A10_ROWS),
            pointStyle: "cross",
            pointRadius: 4.5,
            pointBorderWidth: 2.2,
            borderColor: COLORS.a10,
            backgroundColor: COLORS.a10,
            order: 1,
            clip: { left: 10, top: 10, right: 3, bottom: 10 },
          },
          {
            label: "0,0%",
            data: [
              { x: 0, y: ZERO_LEVEL },
              { x: X_SPAN, y: ZERO_LEVEL },
            ],
            showLine: true,
            borderColor: COLORS.zero,
            borderWidth: 4.5,
            pointRadius: 0,
            order: 2,
          },
          {
            label: "Rendement_A07",
            data: rowsToPoints(A07_ROWS),
            pointStyle: "cross",
            pointRadius: 4.5,
            pointBorderWidth: 2.2,
            borderColor: COLORS.a07,
            backgroundColor: COLORS.a07,
            order: 3,
          },
          {
            label: "Rendement_A04",
            data: a04,
            pointStyle: "cross",
            pointRadius: 4.5,
            pointBorderWidth: 1.5,
            borderColor: COLORS.a04,
            backgroundColor: COLORS.a04,
            order: 4,
          },
          {
            label: "grey",
            data: [
              { x: 0, y: GREY_LEVEL },
              { x: X_SPAN, y: GREY_LEVEL },
            ],
            showLine: true,
            borderColor: COLORS.grey,
            borderWidth: 1.6,
            pointRadius: 0,
            order: 5,
          },
        ],
      },
      options: {
        responsive: false,
        maintainAspectRatio: false,
        animation: false,
        events: [],
        layout: {
          padding: { left: 0, top: PLOT.top, right: CANVAS_W - lx(PLOT.right), bottom: 0 },
        },
        plugins: {
          legend: { display: false },
          title: { display: false },
          tooltip: { enabled: false },
        },
        scales: {
          x: {
            type: "linear",
            min: 0,
            max: X_SPAN,
            afterBuildTicks: (axis: any) => {
              axis.ticks = axis.ticks.filter((t: any) => t.value < X_SPAN);
            },
            afterFit: (axis: any) => {
              axis.height = PAGE_H - PLOT.bottom;
            },
            ticks: {
              stepSize: X_STEP,
              autoSkip: false,
              maxRotation: 0,
              padding: 15,
              color: COLORS.text,
              font: { family: FONT, size: 17 },
              callback: (v: any) => `01/01/${START_YEAR + Number(v)}`,
            },
            grid: { color: COLORS.grid, lineWidth: 1.2, drawTicks: false },
            border: { display: false },
          },
          y: {
            min: Y_MIN,
            max: Y_MAX,
            afterFit: (axis: any) => {
              axis.width = lx(PLOT.left);
            },
            ticks: {
              stepSize: Y_STEP,
              padding: 19,
              color: COLORS.text,
              font: { family: FONT, size: 17 },
              callback: (v: any) => (Number(v) < 0 ? `- ${Math.abs(Number(v))}%` : `${v}%`),
            },
            grid: { color: COLORS.grid, lineWidth: 1, drawTicks: false },
            border: { display: false },
          },
        },
      },
      plugins: [overlayPlugin],
    });

    return () => chart.destroy();
  }, []);

  return (
    <div
      style={{
        position: "fixed",
        left: 0,
        top: 0,
        width: PAGE_W,
        height: PAGE_H,
        overflow: "hidden",
        background: "#ffffff",
      }}
    >
      <div
        style={{
          position: "absolute",
          left: 0,
          top: 0,
          width: CANVAS_W,
          height: PAGE_H,
          transform: `scaleX(${SX})`,
          transformOrigin: "0 0",
        }}
      >
        <canvas ref={canvasRef} width={CANVAS_W} height={PAGE_H} style={{ display: "block" }} />
      </div>

      {/* green banner */}
      <svg width={PAGE_W} height={46} style={{ position: "absolute", left: 0, top: 0 }}>
        <rect x={0} y={0} width={PAGE_W} height={46} fill="#ffffff" />
        <rect x={2} y={2} width={1692} height={40} fill="#7DC67E" />
        <rect x={2} y={42} width={1692} height={2} fill="#D4D4D4" />
        <text
          x={27}
          y={33}
          textLength={1466}
          lengthAdjust="spacingAndGlyphs"
          fontFamily={FONT}
          fontWeight="bold"
          fontSize={26}
          fill="#141414"
        >
          {HEADER}
        </text>
        <rect x={0} y={41} width={18} height={4} fill="#FFC000" />
        <rect x={1680} y={41} width={15} height={4} fill="#FFC000" />
        <rect x={1691} y={41} width={4} height={5} fill="#FFC000" />
      </svg>

      {/* chart frame and outer border */}
      <div
        style={{
          position: "absolute",
          left: 2,
          top: 44,
          width: 1691,
          height: 799,
          border: "1px solid #D9D9D9",
          boxSizing: "border-box",
          pointerEvents: "none",
        }}
      />
      <div style={{ position: "absolute", left: 0, top: 843, width: 18, height: 6, background: "#FFC000" }} />
      <div style={{ position: "absolute", left: 1691, top: 800, width: 4, height: 50, background: "#FFC000" }} />
      <div style={{ position: "absolute", left: 1680, top: 843, width: 15, height: 6, background: "#FFC000" }} />
      <div
        style={{
          position: "absolute",
          inset: 0,
          border: "2px solid #8C8C8C",
          borderRight: "3px solid #B0B0B0",
          boxSizing: "border-box",
          pointerEvents: "none",
        }}
      />
    </div>
  );
}
